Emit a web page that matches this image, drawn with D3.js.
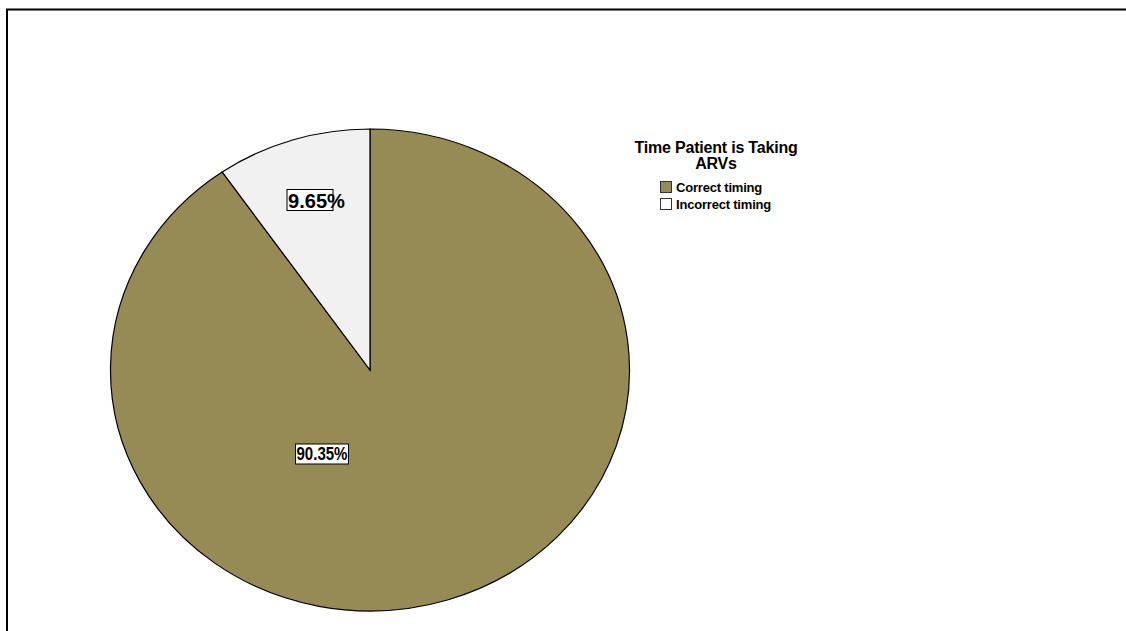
<!DOCTYPE html>
<html><head><meta charset="utf-8">
<script src="https://cdn.jsdelivr.net/npm/d3@7"></script>
<style>body{margin:0;background:#fff}svg{display:block}</style>
</head><body>
<script>
const categories = ["Correct timing", "Incorrect timing"];
const values = [90.35, 9.65];
const labels = ["90.35%", "9.65%"];
const colors = ["#968b54", "#f1f1f1"];
const legendTitle = ["Time Patient is Taking", "ARVs"];

const W = 1126, H = 631;
const svg = d3.select("body").append("svg").attr("width", W).attr("height", H);

// frame
svg.append("path").attr("d", `M7,${H+5} L7,9.5 L${W+5},9.5`).attr("fill","none").attr("stroke","#000").attr("stroke-width",2);

const cx = 370, cy = 370, rx = 259.5, ry = 241;
const pie = d3.pie().sort(null).value(d => d)(values);
const arc = d3.arc().innerRadius(0).outerRadius(rx);
const g = svg.append("g").attr("transform", `translate(${cx},${cy}) scale(1,${ry/rx})`);
g.selectAll("path").data(pie).join("path")
  .attr("d", arc).attr("fill", (d,i) => colors[i])
  .attr("stroke", "#000").attr("stroke-width", 1.2).attr("vector-effect","non-scaling-stroke");

// labels
const labelPos = [[322, 454], [314, 200]];
const labelSize = [[53, 20, 18], [46, 21, 21]];
labels.forEach((t, i) => {
  const [x, y] = labelPos[i];
  const [bw, bh, fs] = labelSize[i];
  svg.append("rect").attr("x", x - bw/2 + (i===1?-4:0)).attr("y", y - bh/2).attr("width", bw).attr("height", bh)
    .attr("fill", "#fff").attr("stroke", "#000").attr("stroke-width", 1);
  svg.append("text").attr("x", x - bw/2 + (i===1?-3:1)).attr("y", y + fs*0.36)
    .attr("font-family", "Liberation Sans, Arial, sans-serif").attr("font-size", fs)
    .attr("font-weight", "bold")
    .attr("textLength", i===1 ? 57 : 51).attr("lengthAdjust","spacingAndGlyphs")
    .attr("fill", "#000").text(t);
});

// legend
legendTitle.forEach((t, i) => {
  svg.append("text").attr("x", 716).attr("y", 153 + i*16).attr("text-anchor","middle")
    .attr("font-family","Liberation Sans, Arial, sans-serif").attr("font-size",16).attr("font-weight","bold")
    .attr("letter-spacing", -0.2).text(t);
});
categories.forEach((c, i) => {
  const y = 181 + i*17;
  svg.append("rect").attr("x", 660.5).attr("y", y + 0.5).attr("width", 11).attr("height", 11)
    .attr("fill", colors[i] === "#f1f1f1" ? "#fff" : colors[i]).attr("stroke","#333").attr("stroke-width",1);
  svg.append("text").attr("x", 676).attr("y", y + 10.5)
    .attr("font-family","Liberation Sans, Arial, sans-serif").attr("font-size",13).attr("font-weight","bold")
    .attr("letter-spacing", -0.2).text(c);
});
</script>
</body></html>
